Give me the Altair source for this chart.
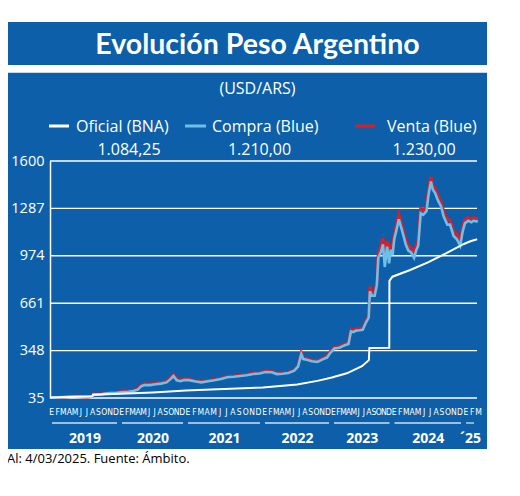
import altair as alt
import numpy as np
import pandas as pd

# ------------------------------------------------------------------ data
oficial_fechas = [
    "2019-01-02", "2019-04-15", "2019-08-09", "2019-08-13", "2019-12-31",
    "2020-06-30", "2020-12-31", "2021-06-30", "2021-12-31", "2022-06-30",
    "2022-10-15", "2022-12-31", "2023-03-31", "2023-06-30", "2023-08-11",
    "2023-08-14", "2023-12-12", "2023-12-13", "2023-12-31", "2024-03-31",
    "2024-06-30", "2024-09-30", "2024-12-31", "2025-01-31", "2025-02-28",
    "2025-03-04",
]
oficial_valores = [
    38, 42, 46, 56, 63,
    72, 84, 95, 104, 124,
    148, 170, 198, 245, 285,
    365, 367, 808, 836, 880,
    930, 990, 1052, 1070, 1082,
    1084.25,
]

blue_fechas = [
    "2019-01-02", "2019-02-15", "2019-03-15", "2019-04-15", "2019-05-15",
    "2019-06-15", "2019-07-15", "2019-08-09", "2019-08-14", "2019-09-15",
    "2019-10-15", "2019-11-15", "2019-12-15", "2020-01-15", "2020-02-15",
    "2020-03-15", "2020-04-08", "2020-04-28", "2020-05-15", "2020-06-15",
    "2020-07-15", "2020-08-15", "2020-09-15", "2020-10-05", "2020-10-23",
    "2020-11-10", "2020-12-01", "2020-12-20", "2021-01-15", "2021-02-15",
    "2021-03-15", "2021-04-15", "2021-05-15", "2021-06-15", "2021-07-15",
    "2021-08-15", "2021-09-15", "2021-10-15", "2021-11-15", "2021-12-15",
    "2022-01-15", "2022-02-15", "2022-03-15", "2022-04-15", "2022-05-15",
    "2022-06-15", "2022-07-05", "2022-07-22", "2022-08-01", "2022-08-20",
    "2022-09-15", "2022-10-15", "2022-11-15", "2022-12-05", "2022-12-25",
    "2023-01-15", "2023-02-15", "2023-03-15", "2023-04-10", "2023-04-25",
    "2023-05-10", "2023-05-25", "2023-06-15", "2023-07-05", "2023-07-25",
    "2023-08-10", "2023-08-17", "2023-08-30", "2023-09-15", "2023-09-28",
    "2023-10-07", "2023-10-23", "2023-11-04", "2023-11-15", "2023-11-29",
    "2023-12-11", "2023-12-21", "2024-01-01", "2024-01-09", "2024-01-21",
    "2024-02-02", "2024-02-12", "2024-02-25", "2024-03-08", "2024-03-21",
    "2024-04-05", "2024-04-20", "2024-05-01", "2024-05-11", "2024-05-24",
    "2024-06-06", "2024-06-23", "2024-07-02", "2024-07-15", "2024-07-25",
    "2024-08-05", "2024-08-20", "2024-09-05", "2024-09-18", "2024-10-07",
    "2024-10-21", "2024-11-08", "2024-11-24", "2024-12-12", "2024-12-24",
    "2025-01-05", "2025-01-21", "2025-02-05", "2025-02-15", "2025-03-01",
    "2025-03-04",
]
venta_valores = [
    38.5, 40, 42.5, 45, 46,
    44, 43, 46, 60, 59,
    66, 70, 72, 78, 80,
    85, 95, 120, 128, 126,
    132, 136, 145, 165, 190,
    160, 152, 160, 158, 148,
    142, 150, 156, 165, 178,
    180, 185, 190, 200, 202,
    212, 210, 198, 200, 205,
    222, 250, 335, 300, 295,
    285, 280, 300, 310, 345,
    370, 375, 390, 400, 490,
    480, 490, 492, 495, 545,
    580, 770, 730, 730, 800,
    990, 1040, 1090, 935, 1072,
    955, 1052, 1005, 1111, 1180,
    1245, 1200, 1140, 1080, 1040,
    1025, 985, 1040, 1070, 1285,
    1275, 1300, 1400, 1495, 1440,
    1420, 1370, 1330, 1265, 1210,
    1210, 1135, 1115, 1060, 1160,
    1215, 1225, 1215, 1225, 1220,
    1230,
]
compra_valores = [
    37.5, 39, 41.5, 44, 45,
    43, 42, 45, 58, 57,
    64, 68, 70, 74, 76,
    81, 90, 113, 120, 120,
    126, 130, 138, 158, 180,
    152, 146, 154, 153, 144,
    138, 146, 152, 160, 172,
    175, 180, 185, 194, 197,
    206, 205, 193, 195, 200,
    216, 243, 325, 292, 287,
    278, 273, 292, 302, 337,
    362, 367, 382, 392, 475,
    470, 480, 482, 485, 535,
    565, 740, 710, 710, 780,
    960, 1000, 1050, 900, 1035,
    924, 1015, 979, 1080, 1145,
    1215, 1170, 1110, 1050, 1010,
    995, 960, 1010, 1040, 1255,
    1245, 1270, 1370, 1465, 1410,
    1390, 1340, 1300, 1235, 1180,
    1180, 1105, 1085, 1040, 1130,
    1190, 1205, 1195, 1205, 1200,
    1210,
]

y_ticks = [35, 348, 661, 974, 1287, 1600]
meses = ["E", "F", "M", "A", "M", "J", "J", "A", "S", "O", "N", "D"]
anios = [2019, 2020, 2021, 2022, 2023, 2024, 2025]
anio_etiquetas = ["2019", "2020", "2021", "2022", "2023", "2024", "\u00b425"]
meses_2025 = 3
fin_serie = 2025.17

titulo = "Evolución Peso Argentino"
subtitulo = "(USD/ARS)"
series_nombres = ["Oficial (BNA)", "Compra (Blue)", "Venta (Blue)"]
fuente = "Al: 4/03/2025. Fuente: Ámbito."

# ------------------------------------------------------------------ styling
AZUL = "#0c5fa8"
CELESTE = "#6cc0ea"
ROJO = "#d8202a"
FONT = "Open Sans"

# piecewise x scale reproducing the uneven year widths of the original
x_cortes = anios + [fin_serie]
x_rango = [0, 70, 136, 213, 282, 342.5, 414, 427]


def frac_year(fechas):
    d = pd.to_datetime(pd.Series(fechas))
    days = np.where(d.dt.is_leap_year, 366, 365)
    return (d.dt.year + (d.dt.dayofyear - 0.5) / days).to_numpy()


df_blue = pd.DataFrame({"t": frac_year(blue_fechas), "venta": venta_valores,
                        "compra": compra_valores})
df_of = pd.DataFrame({"t": frac_year(oficial_fechas), "oficial": oficial_valores})

rows = []
for a in anios:
    n = meses_2025 if a == 2025 else 12
    for k in range(n):
        rows.append({"t": a + (k + 0.3) / 12, "m": meses[k]})
df_meses = pd.DataFrame(rows)

ends = anios[1:] + [fin_serie]
df_anios = pd.DataFrame({"ini": anios, "fin": ends,
                         "mid": [(a + b) / 2 for a, b in zip(anios, ends)],
                         "lab": anio_etiquetas})

df_grid = pd.DataFrame({"v": y_ticks})
one = pd.DataFrame({"a": [0]})


def fmt_es(v):
    s = f"{v:,.2f}"
    return s.replace(",", "X").replace(".", ",").replace("X", ".")


xscale = alt.Scale(domain=x_cortes, range=x_rango, nice=False, zero=False)
yscale = alt.Scale(domain=[35, 1600], nice=False, zero=False)
yaxis = alt.Axis(values=y_ticks, title=None, grid=False, ticks=False,
                 domain=True, domainColor="white", domainWidth=1.5,
                 labelColor="white", labelFont=FONT, labelFontSize=14.5,
                 labelPadding=6, zindex=1, labelFlush=False, format="d")


def X(f):
    return alt.X(f"{f}:Q", scale=xscale, axis=None)


def Y(f):
    return alt.Y(f"{f}:Q", scale=yscale, axis=yaxis)


def rect(x1, x2, y1, y2, color):
    return alt.Chart(one).mark_rect(color=color).encode(
        x=alt.value(x1), x2=alt.value(x2), y=alt.value(y1), y2=alt.value(y2))


def txt(s, x, y, size, color="white", align="left", weight="normal",
        font=FONT):
    return alt.Chart(one).mark_text(
        text=s, align=align, baseline="alphabetic", fontSize=size,
        color=color, fontWeight=weight, font=font).encode(
        x=alt.value(x), y=alt.value(y))


def swatch(x1, x2, y, color, w):
    return alt.Chart(one).mark_rule(color=color, strokeWidth=w).encode(
        x=alt.value(x1), x2=alt.value(x2), y=alt.value(y))


bg_title = rect(-43, 437, -139, -96, AZUL)
bg_panel = rect(-43, 437, -88.3, 288, AZUL)

grid = alt.Chart(df_grid).mark_rule(color="white", strokeWidth=1.4).encode(
    y=Y("v"), x=alt.value(0), x2=alt.value(427))

l_venta = alt.Chart(df_blue).mark_line(color=ROJO, strokeWidth=3.2).encode(
    x=X("t"), y=Y("venta"))
l_compra = alt.Chart(df_blue).mark_line(color=CELESTE, strokeWidth=2.6).encode(
    x=X("t"), y=Y("compra"))
l_oficial = alt.Chart(df_of).mark_line(color="white", strokeWidth=2).encode(
    x=X("t"), y=Y("oficial"))

mes_txt = alt.Chart(df_meses).mark_text(
    font="DejaVu Sans Condensed, Roboto, sans-serif", fontSize=8.5,
    color="white", baseline="middle", align="center").encode(
    x=X("t"), y=alt.value(250.5), text="m:N")

anio_rule = alt.Chart(df_anios).mark_rule(
    color="#cfe0f1", strokeWidth=1.3, xOffset=2, x2Offset=-3).encode(
    x=X("ini"), x2="fin:Q", y=alt.value(262))
anio_txt = alt.Chart(df_anios).mark_text(
    font=FONT, fontSize=14, fontWeight="bold", color="white",
    baseline="middle", align="center").encode(
    x=X("mid"), y=alt.value(278), text="lab:N")

t_title = txt(titulo, 207.5, -107.5, 28.5, align="center", weight="bold",
              font="Lato")
t_sub = txt(subtitulo, 207.5, -66.7, 16, align="center")
leg = [
    swatch(-1, 19, -35, "white", 3),
    txt(series_nombres[0], 26, -29.3, 16),
    swatch(135, 156, -35, CELESTE, 3),
    txt(series_nombres[1], 162, -29.3, 16),
    swatch(305, 325, -35, ROJO, 3),
    txt(series_nombres[2], 337, -29.3, 16),
    txt(fmt_es(oficial_valores[-1]), 79, -6, 16, align="center"),
    txt(fmt_es(compra_valores[-1]), 209.5, -6, 16, align="center"),
    txt(fmt_es(venta_valores[-1]), 374, -6, 16, align="center"),
]
t_fuente = txt(fuente, -43, 301.5, 13, color="black")

chart = alt.layer(
    bg_title, bg_panel, grid, l_venta, l_compra, l_oficial,
    mes_txt, anio_rule, anio_txt, t_title, t_sub, *leg, t_fuente,
).properties(
    width=427, height=237,
    autosize=alt.AutoSizeParams(type="none"),
    padding={"left": 42, "top": 153, "right": 35, "bottom": 90},
    background="white",
).configure_view(strokeWidth=0)

chart.save("out.html", embed_options={"renderer": "svg", "actions": False})
